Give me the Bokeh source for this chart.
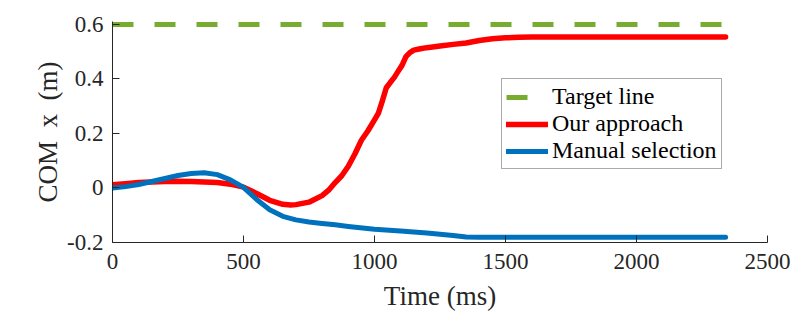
from bokeh.plotting import figure
from bokeh.models import Range1d, FixedTicker, Legend, LegendItem
from bokeh.embed import file_html
from bokeh.resources import INLINE

# ---- data ----
t_target = [0, 2340]
y_target = [0.6, 0.6]

t_ours = [0, 50, 100, 150, 200, 250, 300, 350, 400, 450, 500, 550, 600, 650, 680,
          700, 750, 800, 825, 850, 875, 900, 925, 950, 975, 1000, 1015, 1030, 1045,
          1060, 1075, 1090, 1105, 1120, 1135, 1150, 1175, 1200, 1250, 1300, 1350,
          1400, 1450, 1500, 1550, 1600, 1700, 1800, 2000, 2200, 2340]
y_ours = [0.012, 0.016, 0.020, 0.022, 0.024, 0.025, 0.024, 0.022, 0.020, 0.014,
          0.003, -0.020, -0.045, -0.060, -0.062, -0.061, -0.052, -0.028, -0.008,
          0.020, 0.045, 0.080, 0.125, 0.175, 0.210, 0.250, 0.275, 0.320, 0.368,
          0.387, 0.405, 0.428, 0.450, 0.482, 0.497, 0.506, 0.511, 0.515, 0.521,
          0.527, 0.532, 0.541, 0.548, 0.551, 0.553, 0.554, 0.554, 0.554, 0.554,
          0.554, 0.554]

t_manual = [0, 50, 100, 150, 200, 250, 300, 350, 400, 450, 500, 550, 600, 650,
            700, 750, 800, 850, 900, 1000, 1100, 1200, 1300, 1350, 1400, 1600,
            1800, 2000, 2200, 2340]
y_manual = [0.000, 0.005, 0.013, 0.024, 0.035, 0.046, 0.053, 0.056, 0.049, 0.030,
            0.002, -0.042, -0.080, -0.104, -0.117, -0.125, -0.130, -0.135, -0.141,
            -0.151, -0.158, -0.165, -0.174, -0.180, -0.181, -0.181, -0.181, -0.181,
            -0.181, -0.181]

x_ticks = [0, 500, 1000, 1500, 2000, 2500]
x_tick_labels = ["0", "500", "1000", "1500", "2000", "2500"]
y_ticks = [-0.2, 0, 0.2, 0.4, 0.6]
y_tick_labels = ["-0.2", "0", "0.2", "0.4", "0.6"]

labels = ["Target line", "Our approach", "Manual selection"]
colors = ["#77AC30", "#FF0000", "#0072BD"]

FONT = "Liberation Serif"
AX = "#262626"

p = figure(width=811, height=316, output_backend="svg", toolbar_location=None,
           x_range=Range1d(0, 2500), y_range=Range1d(-0.2, 0.611),
           min_border_left=112, min_border_right=44, min_border_top=21,
           min_border_bottom=74)
p.outline_line_color = None
p.grid.visible = False
p.background_fill_color = "white"
p.border_fill_color = "white"

r_t = p.line(t_target, y_target, line_color=colors[0], line_width=5,
             line_dash="21 21", line_cap="butt")
r_o = p.line(t_ours, y_ours, line_color=colors[1], line_width=5.5,
             line_cap="round", line_join="round")
r_m = p.line(t_manual, y_manual, line_color=colors[2], line_width=5,
             line_cap="round", line_join="round")

for ax, ticks, tl in ((p.xaxis[0], x_ticks, x_tick_labels),
                      (p.yaxis[0], y_ticks, y_tick_labels)):
    ax.ticker = FixedTicker(ticks=ticks)
    ax.major_label_overrides = {t: l for t, l in zip(ticks, tl)}
    ax.minor_tick_line_color = None
    ax.major_tick_in = 7
    ax.major_tick_out = 0
    ax.axis_line_color = AX
    ax.major_tick_line_color = AX
    ax.major_label_text_font = FONT
    ax.major_label_text_font_size = "23px"
    ax.major_label_text_color = AX
    ax.axis_label_text_font = FONT
    ax.axis_label_text_font_style = "normal"
    ax.axis_label_text_font_size = "27px"
    ax.axis_label_text_color = AX

p.xaxis.axis_label = "Time (ms)"
p.yaxis.axis_label = "COM\u00a0 x\u00a0 (m)"
p.xaxis.major_label_standoff = 11
p.xaxis.axis_label_standoff = 9
p.yaxis.major_label_standoff = 9
p.yaxis.axis_label_standoff = 1

legend = Legend(items=[LegendItem(label=labels[0], renderers=[r_t]),
                       LegendItem(label=labels[1], renderers=[r_o]),
                       LegendItem(label=labels[2], renderers=[r_m])],
                location=(389, 73), margin=0, padding=4, spacing=0,
                glyph_width=42, glyph_height=26, label_height=26,
                label_standoff=4,
                label_text_font=FONT, label_text_font_size="24px",
                label_text_color="black",
                border_line_color="#555555", border_line_width=1,
                background_fill_color="white", background_fill_alpha=1)
p.add_layout(legend, "center")

open("out.html", "w").write(file_html(p, INLINE))
